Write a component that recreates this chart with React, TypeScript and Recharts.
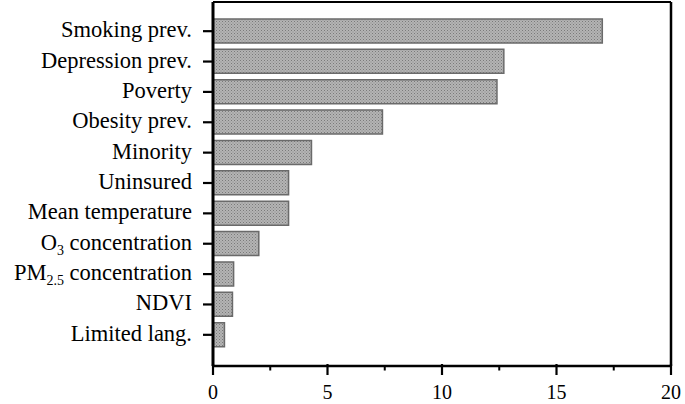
import React from "react";
import { BarChart, Bar, XAxis, YAxis } from "recharts";

const categories = [
  "Smoking prev.",
  "Depression prev.",
  "Poverty",
  "Obesity prev.",
  "Minority",
  "Uninsured",
  "Mean temperature",
  "O3 concentration",
  "PM2.5 concentration",
  "NDVI",
  "Limited lang.",
];
const importance = [17.0, 12.7, 12.4, 7.4, 4.3, 3.3, 3.3, 2.0, 0.9, 0.85, 0.5];
const xTicks = [0, 2.5, 5, 7.5, 10, 12.5, 15, 17.5, 20];
const xLabels = [0, 5, 10, 15, 20];

const data = categories.map((name, i) => ({ name, value: importance[i] }));

const FONT = "'Liberation Serif', 'Times New Roman', serif";

const YTick = (props: any) => {
  const { x, y, payload } = props;
  const label: string = payload.value;
  const m = label.match(/^([A-Z]+)(\d[\d.]*)( .*)$/);
  return (
    <g>
      <line x1={x - 10} x2={x} y1={y} y2={y} stroke="#000" strokeWidth={2.2} />
      <text
        x={x - 21}
        y={y + 6}
        textAnchor="end"
        fontFamily={FONT}
        fontSize={22.5}
        fill="#000"
      >
        {m ? (
          <>
            <tspan>{m[1]}</tspan>
            <tspan fontSize={14} dy={5}>{m[2]}</tspan>
            <tspan dy={-5}>{m[3]}</tspan>
          </>
        ) : (
          label
        )}
      </text>
    </g>
  );
};

const XTick = (props: any) => {
  const { x, y, payload } = props;
  const v: number = payload.value;
  const major = xLabels.includes(v);
  return (
    <g>
      {major ? (
        <line x1={x} x2={x} y1={y - 2} y2={y + 9} stroke="#000" strokeWidth={2.2} />
      ) : (
        <line x1={x} x2={x} y1={y} y2={y + 4.5} stroke="#000" strokeWidth={2} />
      )}
      {major && (
        <text
          x={x}
          y={y + 33}
          textAnchor="middle"
          fontFamily={FONT}
          fontSize={20}
          fill="#000"
        >
          {v}
        </text>
      )}
    </g>
  );
};

export default function App() {
  return (
    <div style={{ position: "absolute", left: 0, top: 0, background: "#fff" }}>
      <BarChart
        width={685}
        height={404}
        data={data}
        layout="vertical"
        margin={{ top: 1, right: 13, bottom: 0, left: 0 }}
        barSize={24}
      >
        <defs>
          <pattern id="dots" width="3" height="3" patternUnits="userSpaceOnUse">
            <rect width="3" height="3" fill="#b4b4b4" />
            <rect x="0" y="0" width="1" height="1" fill="#7a7a7a" />
            <rect x="1.5" y="1.5" width="1" height="1" fill="#8a8a8a" />
          </pattern>
        </defs>
        <XAxis
          type="number"
          domain={[0, 20]}
          ticks={xTicks}
          interval={0}
          tick={<XTick />}
          tickLine={false}
          tickSize={0}
          tickMargin={0}
          axisLine={{ stroke: "#000", strokeWidth: 2.5 }}
          height={38}
        />
        <XAxis
          xAxisId="top"
          orientation="top"
          type="number"
          domain={[0, 20]}
          tick={false}
          tickLine={false}
          axisLine={{ stroke: "#000", strokeWidth: 2.2 }}
          height={1}
        />
        <YAxis
          type="category"
          dataKey="name"
          width={213}
          interval={0}
          tick={<YTick />}
          tickLine={false}
          tickSize={0}
          tickMargin={0}
          padding={{ top: 14, bottom: 16 }}
          axisLine={{ stroke: "#000", strokeWidth: 3 }}
        />
        <YAxis
          yAxisId="right"
          orientation="right"
          type="category"
          dataKey="name"
          width={1}
          tick={false}
          tickLine={false}
          axisLine={{ stroke: "#000", strokeWidth: 2.5 }}
        />
        <Bar
          dataKey="value"
          fill="url(#dots)"
          stroke="#6a6a6a"
          strokeWidth={1.5}
          isAnimationActive={false}
        />
      </BarChart>
    </div>
  );
}
